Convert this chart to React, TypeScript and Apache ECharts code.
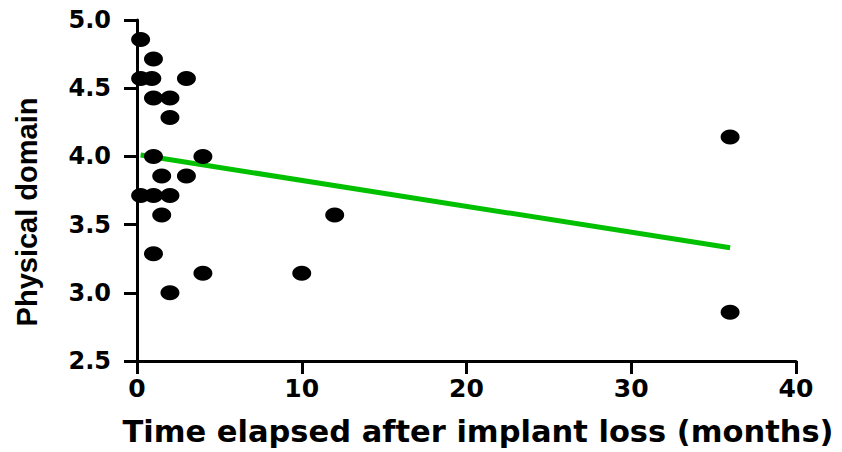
import React, { useEffect, useRef } from "react";
import * as echarts from "echarts";

const monthsX = [0.22, 1, 0.22, 0.9, 3, 1, 2, 2, 1, 4, 1.5, 3, 0.22, 1, 2, 1.5, 1, 4, 2, 10, 12, 36, 36];
const physicalY = [4.857, 4.714, 4.571, 4.571, 4.571, 4.429, 4.429, 4.286, 4.0, 4.0, 3.857, 3.857, 3.714, 3.714, 3.714, 3.571, 3.286, 3.143, 3.0, 3.143, 3.571, 4.143, 2.857];
const fitX = [0.22, 36];
const fitY = [4.01, 3.33];
const xTicks = [0, 10, 20, 30, 40];
const yTicks = [2.5, 3.0, 3.5, 4.0, 4.5, 5.0];
const xTitle = "Time elapsed after implant loss (months)";
const yTitle = "Physical domain";

const FONT = "DejaVu Sans";

export default function App() {
  const ref = useRef<HTMLDivElement>(null);
  useEffect(() => {
    if (!ref.current) return;
    const chart = echarts.init(ref.current, null, { renderer: "svg" });
    const axisCommon = {
      axisLine: { show: true, onZero: false, lineStyle: { color: "#000", width: 3 } },
      axisTick: { show: true, length: 13, lineStyle: { color: "#000", width: 3 } },
      splitLine: { show: false },
    };
    chart.setOption({
      animation: false,
      backgroundColor: "#fff",
      grid: { left: 137, right: 46, top: 20, bottom: 91 },
      xAxis: {
        type: "value",
        min: xTicks[0],
        max: xTicks[xTicks.length - 1],
        interval: xTicks[1] - xTicks[0],
        ...axisCommon,
        axisLabel: { color: "#000", fontFamily: FONT, fontWeight: "bold", fontSize: 25, margin: 15 },
      },
      yAxis: {
        type: "value",
        min: yTicks[0],
        max: yTicks[yTicks.length - 1],
        interval: 0.5,
        ...axisCommon,
        axisLabel: {
          color: "#000",
          fontFamily: FONT,
          fontWeight: "bold",
          fontSize: 24,
          margin: 26,
          formatter: (v: number) => v.toFixed(1),
        },
      },
      graphic: [
        {
          type: "text",
          x: 478,
          y: 431,
          style: {
            text: xTitle,
            fill: "#000",
            font: `bold 30.5px "${FONT}"`,
            textAlign: "center",
            textVerticalAlign: "middle",
          },
        },
        {
          type: "text",
          x: 26.5,
          y: 212,
          rotation: Math.PI / 2,
          style: {
            text: yTitle,
            fill: "#000",
            font: 'bold 29px "Liberation Sans"',
            textAlign: "center",
            textVerticalAlign: "middle",
          },
        },
      ],
      series: [
        {
          type: "line",
          data: fitX.map((x, i) => [x, fitY[i]]),
          symbol: "none",
          lineStyle: { color: "#00c000", width: 5 },
          z: 1,
        },
        {
          type: "scatter",
          data: monthsX.map((x, i) => [x, physicalY[i]]),
          symbol: "circle",
          symbolSize: [19, 15],
          itemStyle: { color: "#000", opacity: 1 },
          z: 3,
        },
      ],
    });
    return () => chart.dispose();
  }, []);
  return (
    <div
      ref={ref}
      style={{ position: "fixed", left: 0, top: 0, width: 842, height: 452, background: "#fff" }}
    />
  );
}
